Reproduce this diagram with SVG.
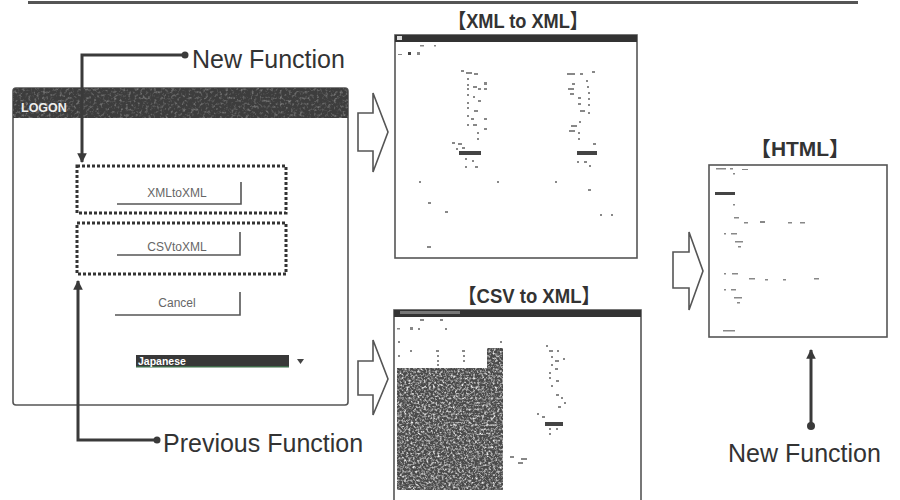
<svg xmlns="http://www.w3.org/2000/svg" width="900" height="500" viewBox="0 0 900 500">
<defs>
<style>
.lbl{font-family:"Liberation Sans",Arial,sans-serif;fill:#333;font-size:25px}
.ttl{font-family:"Liberation Sans","Noto Sans CJK JP",sans-serif;fill:#333;font-size:20px;font-weight:bold}
.btn{font-family:"Liberation Sans",Arial,sans-serif;fill:#666;font-size:12px}
.btnl{fill:none;stroke:#555;stroke-width:1.6}
.dot{fill:none;stroke:#333;stroke-width:3;stroke-dasharray:3 2}
.conn{fill:none;stroke:#3a3a3a;stroke-width:3}
.barrow{fill:#fff;stroke:#555;stroke-width:1.6;stroke-linejoin:miter}
.win{fill:#fff;stroke:#555;stroke-width:1.6}
.m{fill:#888}
.md{fill:#444}
</style>
<marker id="ah" viewBox="0 0 10 10" refX="9" refY="5" markerWidth="3.2" markerHeight="3.2" orient="auto" markerUnits="strokeWidth">
<path d="M0,0 L10,5 L0,10 z" fill="#3a3a3a"/>
</marker>
<filter id="grain" x="0" y="0" width="100%" height="100%">
<feTurbulence type="fractalNoise" baseFrequency="0.45" numOctaves="3" seed="7" result="n"/>
<feColorMatrix type="matrix" values="0 0 0 0 1  0 0 0 0 1  0 0 0 0 1  2.2 0 0 0 -0.95" in="n" result="c"/>
<feComposite in="c" in2="SourceGraphic" operator="in"/>
</filter>
<filter id="grain2" x="0" y="0" width="100%" height="100%">
<feTurbulence type="fractalNoise" baseFrequency="0.35" numOctaves="2" seed="2" result="n"/>
<feColorMatrix type="matrix" values="0 0 0 0 1  0 0 0 0 1  0 0 0 0 1  0.9 0 0 0 -0.45" in="n" result="c"/>
<feComposite in="c" in2="SourceGraphic" operator="in"/>
</filter>
</defs>
<rect width="900" height="500" fill="#fff"/>
<line x1="28" y1="2.5" x2="858" y2="2.5" stroke="#555" stroke-width="3"/>

<g id="logon-window">
<rect class="win" x="13" y="88" width="335" height="317" rx="3"/>
<path d="M13,118 V92 Q13,88 17,88 H344 Q348,88 348,92 V118 Z" fill="#3d3d3d"/>
<path d="M13,118 V92 Q13,88 17,88 H344 Q348,88 348,92 V118 Z" fill="#000" filter="url(#grain2)"/>
<text x="21" y="112" font-family="Liberation Sans,Arial,sans-serif" font-size="12.5" font-weight="bold" fill="#eee">LOGON</text>
</g>

<g id="btn-xml">
<rect class="dot" x="77" y="166" width="209" height="47"/>
<path class="btnl" d="M117,204 H241 V182"/>
<text class="btn" x="177" y="197" text-anchor="middle">XMLtoXML</text>
</g>
<g id="btn-csv">
<rect class="dot" x="77" y="223" width="209" height="51"/>
<path class="btnl" d="M117,255 H240 V232"/>
<text class="btn" x="177" y="251" text-anchor="middle">CSVtoXML</text>
</g>
<g id="btn-cancel">
<path class="btnl" d="M115,315 H240 V292"/>
<text class="btn" x="177" y="307" text-anchor="middle">Cancel</text>
</g>
<g id="language-select">
<rect x="136" y="355" width="153" height="12" fill="#383838"/>
<rect x="136" y="366" width="153" height="1.5" fill="#3f6a4a"/>
<text x="138" y="365" font-family="Liberation Sans,Arial,sans-serif" font-size="10.5" font-weight="bold" fill="#fff">Japanese</text>
<path d="M297,359 H304 L300.5,364 Z" fill="#444"/>
</g>

<g id="arrow-logon-xml"><path class="barrow" d="M358,113 H373 V93 L388,132 L373,172 V151 H358 Z"/></g>
<g id="arrow-logon-csv"><path class="barrow" d="M358,361 H373 V340 L388,379 L373,415 V395 H358 Z"/></g>
<g id="arrow-to-html"><path class="barrow" d="M673,252 H689 V232 L703,271 L689,310 V288 H673 Z"/></g>

<g id="xml-screen">
<text class="ttl" x="518" y="28" text-anchor="middle" textLength="140" lengthAdjust="spacingAndGlyphs">【XML to XML】</text>
<rect class="win" x="395" y="35" width="242" height="223"/>
<rect x="395" y="35" width="242" height="7" fill="#333"/>
<rect x="397" y="36" width="5" height="4" fill="#ddd"/>
<rect x="398" y="54" width="4" height="1" class="m"/><rect x="408" y="52" width="3" height="3" class="md"/><rect x="417" y="52" width="3" height="3" class="m"/>
<rect x="420" y="45" width="4" height="1.5" class="m"/><rect x="434" y="45" width="2" height="1.5" class="m"/>
<g class="m">
<rect x="461" y="70" width="3" height="2"/><rect x="466" y="72" width="6" height="2"/><rect x="474" y="73" width="4" height="2"/>
<rect x="467" y="78" width="2" height="2"/><rect x="467" y="84" width="2" height="2"/><rect x="484" y="82" width="3" height="3"/>
<rect x="467" y="88" width="2" height="2"/><rect x="473" y="86" width="4" height="2"/><rect x="478" y="88" width="3" height="2"/><rect x="484" y="88" width="3" height="2"/>
<rect x="467" y="94" width="2" height="2"/><rect x="473" y="96" width="2" height="2"/><rect x="478" y="100" width="3" height="2"/>
<rect x="467" y="102" width="2" height="2"/><rect x="467" y="107" width="2" height="2"/><rect x="474" y="110" width="4" height="2"/>
<rect x="467" y="115" width="2" height="2"/><rect x="471" y="118" width="3" height="2"/><rect x="484" y="118" width="3" height="2"/>
<rect x="467" y="124" width="2" height="2"/><rect x="473" y="124" width="4" height="2"/><rect x="484" y="128" width="3" height="2"/>
<rect x="477" y="132" width="2" height="2"/><rect x="477" y="138" width="2" height="2"/>
<rect x="452" y="142" width="3" height="2"/><rect x="458" y="143" width="4" height="2"/><rect x="456" y="148" width="2" height="2"/><rect x="462" y="147" width="3" height="2"/>
<rect x="465" y="158" width="2" height="2"/><rect x="472" y="160" width="2" height="2"/><rect x="465" y="166" width="2" height="2"/><rect x="475" y="166" width="3" height="2"/>
<rect x="567" y="73" width="8" height="2"/><rect x="580" y="73" width="3" height="2"/><rect x="592" y="71" width="3" height="2"/>
<rect x="572" y="83" width="3" height="2"/><rect x="586" y="80" width="2" height="2"/><rect x="587" y="86" width="2" height="2"/>
<rect x="568" y="88" width="6" height="2"/><rect x="570" y="93" width="4" height="2"/><rect x="588" y="92" width="2" height="2"/>
<rect x="588" y="98" width="2" height="2"/><rect x="578" y="97" width="3" height="2"/><rect x="578" y="103" width="3" height="2"/>
<rect x="588" y="104" width="2" height="2"/><rect x="580" y="110" width="5" height="2"/><rect x="588" y="112" width="2" height="2"/>
<rect x="579" y="121" width="2" height="2"/><rect x="571" y="125" width="6" height="2"/><rect x="569" y="130" width="6" height="2"/>
<rect x="578" y="132" width="2" height="2"/><rect x="578" y="138" width="2" height="2"/><rect x="593" y="143" width="3" height="2"/>
<rect x="577" y="161" width="2" height="2"/><rect x="584" y="161" width="3" height="2"/><rect x="589" y="165" width="2" height="2"/>
<rect x="419" y="181" width="2" height="2"/><rect x="497" y="181" width="2" height="2"/><rect x="555" y="181" width="2" height="2"/>
<rect x="588" y="189" width="3" height="2"/><rect x="428" y="202" width="3" height="2"/><rect x="445" y="211" width="3" height="2"/>
<rect x="600" y="214" width="2" height="2"/><rect x="611" y="214" width="2" height="2"/><rect x="427" y="246" width="4" height="2"/>
</g>
<rect x="459" y="151" width="22" height="4" class="md"/>
<rect x="577" y="151" width="20" height="4" class="md"/>
</g>

<g id="csv-screen">
<text class="ttl" x="529" y="303" text-anchor="middle" textLength="142" lengthAdjust="spacingAndGlyphs">【CSV to XML】</text>
<rect class="win" x="394" y="310" width="247" height="200"/>
<rect x="394" y="310" width="247" height="7" fill="#333"/>
<rect x="400" y="311" width="60" height="3" fill="#777"/>
<g class="m">
<rect x="397" y="328" width="3" height="1.5"/><rect x="410" y="327" width="3" height="3"/><rect x="418" y="328" width="2" height="2"/>
<rect x="420" y="319" width="4" height="2"/><rect x="440" y="319" width="3" height="2"/><rect x="445" y="328" width="2" height="2"/>
<rect x="398" y="341" width="2" height="2"/><rect x="500" y="341" width="2" height="2"/>
<rect x="410" y="350" width="2" height="2"/><rect x="436" y="350" width="3" height="2"/><rect x="462" y="350" width="3" height="2"/>
<rect x="398" y="355" width="2" height="2"/><rect x="437" y="355" width="2" height="2"/><rect x="463" y="355" width="2" height="2"/>
<rect x="437" y="360" width="2" height="2"/><rect x="463" y="360" width="2" height="2"/><rect x="437" y="364" width="2" height="2"/>
<rect x="546" y="345" width="2" height="2"/><rect x="549" y="350" width="4" height="2"/><rect x="557" y="350" width="2" height="2"/>
<rect x="551" y="356" width="2" height="2"/><rect x="555" y="360" width="4" height="2"/><rect x="563" y="358" width="2" height="2"/>
<rect x="551" y="364" width="2" height="2"/><rect x="555" y="368" width="3" height="2"/><rect x="549" y="372" width="2" height="2"/>
<rect x="549" y="377" width="2" height="2"/><rect x="556" y="380" width="3" height="2"/><rect x="551" y="385" width="2" height="2"/>
<rect x="556" y="394" width="3" height="2"/><rect x="561" y="397" width="2" height="2"/><rect x="564" y="402" width="2" height="2"/>
<rect x="558" y="406" width="3" height="2"/><rect x="537" y="413" width="2" height="2"/><rect x="542" y="416" width="3" height="2"/>
<rect x="549" y="428" width="2" height="2"/><rect x="556" y="428" width="2" height="2"/><rect x="549" y="433" width="2" height="2"/>
<rect x="510" y="456" width="4" height="2"/><rect x="521" y="458" width="6" height="2"/><rect x="518" y="462" width="5" height="2"/>
</g>
<rect x="545" y="422" width="18" height="4" class="md"/>
<path d="M397,368 H487 V348 H503 V490 H397 Z" fill="#4a4a4a"/>
<path d="M397,368 H487 V348 H503 V490 H397 Z" fill="#000" filter="url(#grain)"/>
</g>

<g id="html-screen">
<text class="ttl" x="800" y="156" text-anchor="middle" textLength="100" lengthAdjust="spacingAndGlyphs">【HTML】</text>
<rect class="win" x="709" y="165" width="178" height="172"/>
<g class="m">
<rect x="716" y="168" width="10" height="1.5"/><rect x="730" y="168" width="3" height="1.5"/><rect x="742" y="169" width="6" height="1"/>
<rect x="733" y="173" width="2" height="1.5"/>
<rect x="733" y="204" width="2" height="1.5"/><rect x="734" y="217" width="5" height="1.5"/><rect x="744" y="222" width="4" height="1.5"/>
<rect x="760" y="221" width="5" height="2"/><rect x="788" y="222" width="4" height="1.5"/><rect x="800" y="222" width="5" height="1.5"/>
<rect x="724" y="233" width="2" height="1.5"/><rect x="731" y="233" width="6" height="1.5"/><rect x="735" y="241" width="8" height="1.5"/>
<rect x="738" y="246" width="3" height="1.5"/>
<rect x="724" y="273" width="2" height="1.5"/><rect x="732" y="273" width="6" height="1.5"/><rect x="749" y="278" width="6" height="1.5"/>
<rect x="765" y="279" width="3" height="1.5"/><rect x="783" y="279" width="3" height="1.5"/><rect x="814" y="278" width="5" height="1.5"/>
<rect x="724" y="289" width="2" height="1.5"/><rect x="731" y="289" width="5" height="1.5"/><rect x="734" y="297" width="8" height="1.5"/>
<rect x="737" y="302" width="3" height="1.5"/>
<rect x="723" y="330" width="12" height="1.5"/>
</g>
<rect x="715" y="192" width="20" height="3" class="md"/>
</g>

<g id="connectors">
<path class="conn" d="M185,55 H82 V162" marker-end="url(#ah)"/>
<circle cx="185" cy="55" r="3.5" fill="#3a3a3a"/>
<path class="conn" d="M157,440 H78 V281" marker-end="url(#ah)"/>
<circle cx="157" cy="440" r="3.5" fill="#3a3a3a"/>
<path class="conn" d="M811,426 V350" marker-end="url(#ah)"/>
<circle cx="811" cy="426" r="4" fill="#3a3a3a"/>
</g>

<g id="labels">
<text class="lbl" x="192" y="68" font-size="27">New Function</text>
<text class="lbl" x="163" y="452" font-size="27">Previous Function</text>
<text class="lbl" x="728" y="462" font-size="22" fill="#444">New Function</text>
</g>
</svg>
